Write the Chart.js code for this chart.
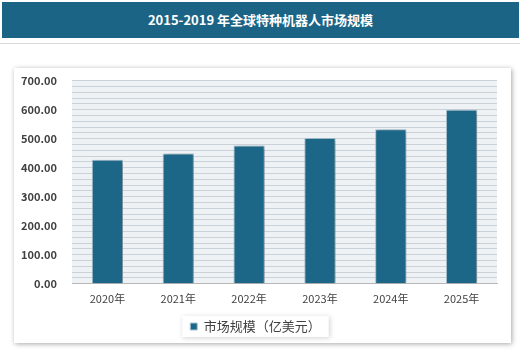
<!DOCTYPE html>
<html>
<head>
<meta charset="utf-8">
<script src="https://cdn.jsdelivr.net/npm/chart.js@4.4.1/dist/chart.umd.min.js"></script>
<style>
    body { margin: 0; width: 520px; height: 352px; background: #fff; position: relative; overflow: hidden; font-family: "Noto Sans CJK SC", sans-serif; }
    .title-bar { position: absolute; left: 2px; top: 2px; width: 517px; height: 36px; background: #1b6485; color: #fff; font-size: 13px; font-weight: bold; text-align: center; line-height: 36px; }
    .rule { position: absolute; left: 0; top: 43px; width: 520px; height: 1px; background: #d8d8d8; }
    .card { position: absolute; left: 14px; top: 68px; width: 497px; height: 275px; background: #fff; box-shadow: 1px 1px 5px rgba(0,0,0,0.35); }
    .card canvas { display: block; position: absolute; left: 0; top: -9px; }
</style>
</head>
<body>
<div class="title-bar">2015-2019 年全球特种机器人市场规模</div>
<div class="rule"></div>
<div class="card"><canvas id="marketChart" width="497" height="284"></canvas></div>
<script>
// data
const years = ['2020年', '2021年', '2022年', '2023年', '2024年', '2025年'];
const marketSize = [427, 449, 476, 502, 532, 600];
const seriesName = '市场规模（亿美元）';
const yMax = 700;
const yLabelStep = 100;
const yGridStep = 20;

const barColor = '#1c6687';

// light plot background, shadow behind bars and a small box behind the legend
const decorPlugin = {
    id: 'decor',
    beforeDraw(chart) {
        const { ctx, chartArea: a } = chart;
        ctx.save();
        ctx.fillStyle = '#eef2f5';
        ctx.fillRect(a.left, a.top, a.right - a.left, a.bottom - a.top);
        const hb = chart.legend.legendHitBoxes[0];
        if (hb) {
            ctx.shadowColor = 'rgba(0,0,0,0.18)';
            ctx.shadowBlur = 5;
            ctx.shadowOffsetX = 1;
            ctx.shadowOffsetY = 1;
            ctx.fillStyle = '#fff';
            ctx.fillRect(hb.left - 8, hb.top - 4, hb.width + 16, hb.height + 8);
        }
        ctx.restore();
    },
    beforeDatasetsDraw(chart) {
        const ctx = chart.ctx;
        ctx.save();
        ctx.shadowColor = 'rgba(0,0,0,0.35)';
        ctx.shadowBlur = 4;
        ctx.shadowOffsetX = 2;
        ctx.shadowOffsetY = 1;
    },
    afterDatasetsDraw(chart) {
        chart.ctx.restore();
    }
};

new Chart(document.getElementById('marketChart'), {
    type: 'bar',
    data: {
        labels: years,
        datasets: [{
            label: seriesName,
            data: marketSize,
            backgroundColor: barColor,
            borderColor: '#a9c6d4',
            borderWidth: 1,
            categoryPercentage: 0.88,
            barPercentage: 0.5
        }]
    },
    options: {
        responsive: false,
        animation: false,
        layout: { padding: { left: 0, right: 14, top: 1, bottom: 0 } },
        plugins: {
            legend: {
                position: 'bottom',
                labels: {
                    color: '#404040',
                    font: { family: 'Noto Sans CJK SC', size: 13 },
                    boxWidth: 7,
                    boxHeight: 7,
                    padding: 9
                }
            },
            tooltip: { enabled: false }
        },
        scales: {
            x: {
                grid: { display: false },
                border: { color: '#b8b8b8' },
                afterFit(scale) { scale.height += 6; },
                ticks: { color: '#404040', font: { family: 'Noto Sans CJK SC', size: 11 }, padding: 0 }
            },
            y: {
                min: 0,
                max: yMax,
                afterFit(scale) { scale.width = 58; },
                border: { display: false },
                grid: { color: '#c9d1d9', drawTicks: false },
                ticks: {
                    stepSize: yGridStep,
                    autoSkip: false,
                    padding: 15,
                    color: '#404040',
                    font: { family: 'Noto Sans CJK SC', size: 11, weight: 'bold' },
                    callback: function(value) {
                        return value % yLabelStep === 0 ? value.toFixed(2) : '';
                    }
                }
            }
        }
    },
    plugins: [decorPlugin]
});
</script>
</body>
</html>
